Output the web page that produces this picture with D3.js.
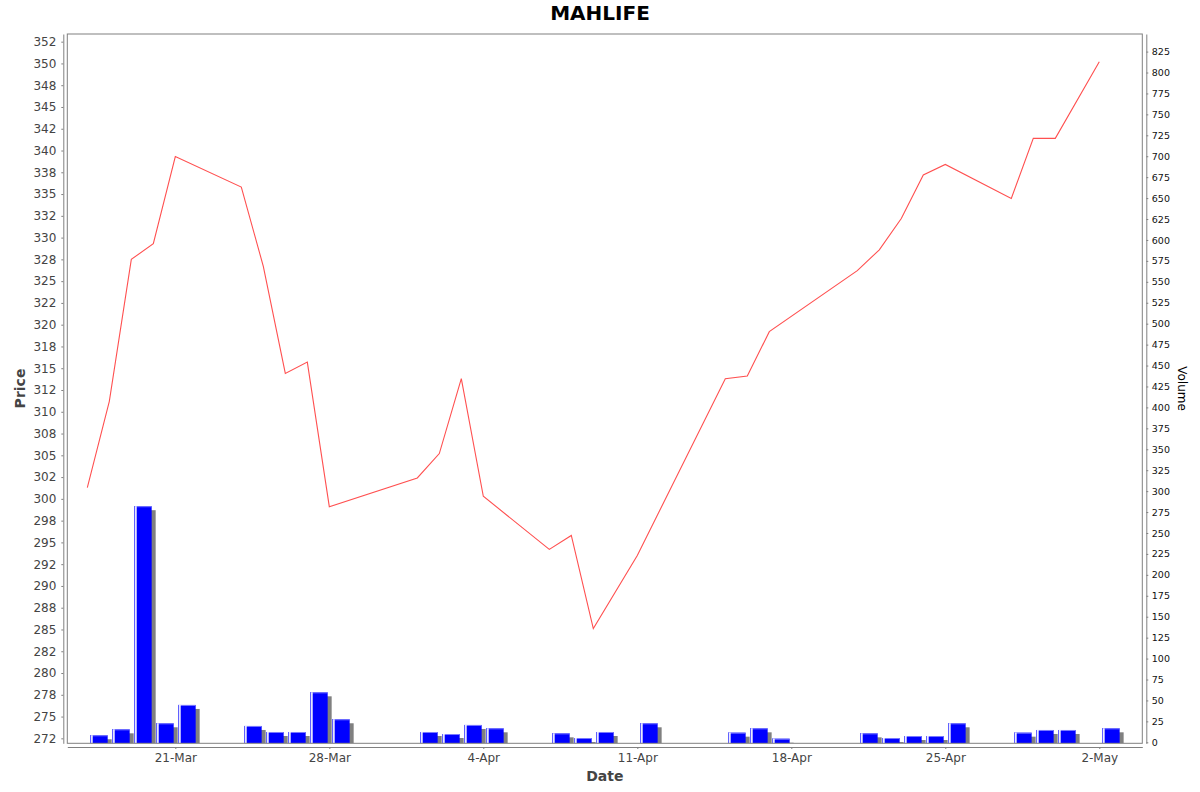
<!DOCTYPE html>
<html>
<head>
<meta charset="utf-8">
<script src="https://cdn.jsdelivr.net/npm/d3@7/dist/d3.min.js"></script>
<style>
  html, body { margin: 0; padding: 0; background: #ffffff; }
  svg { display: block; font-family: "DejaVu Sans", sans-serif; }
</style>
</head>
<body>
<svg id="chart" width="1200" height="792"></svg>
<script>
// ---- Data ----
const dates = ["2025-03-17","2025-03-18","2025-03-19","2025-03-20","2025-03-21",
  "2025-03-24","2025-03-25","2025-03-26","2025-03-27","2025-03-28",
  "2025-04-01","2025-04-02","2025-04-03","2025-04-04",
  "2025-04-07","2025-04-08","2025-04-09","2025-04-11",
  "2025-04-15","2025-04-16","2025-04-17",
  "2025-04-21","2025-04-22","2025-04-23","2025-04-24","2025-04-25",
  "2025-04-28","2025-04-29","2025-04-30","2025-05-02"];
const prices = [301.3, 311.2, 327.5, 329.3, 339.3,
  335.8, 326.7, 314.4, 315.7, 299.1,
  302.4, 305.2, 313.8, 300.3,
  294.2, 295.8, 285.1, 293.5,
  313.8, 314.1, 319.2,
  326.2, 328.6, 332.2, 337.2, 338.4,
  334.5, 341.4, 341.4, 350.2];
const volumes = [8.4, 15.5, 282, 22.7, 44.6,
  19.5, 12.3, 12.3, 59.7, 27.5,
  12.3, 9.9, 20.7, 16.7,
  10.7, 5.1, 12.3, 22.7,
  11.5, 16.7, 4.3,
  10.7, 5.1, 7.5, 7.5, 22.7,
  11.5, 14.7, 14.7, 16.7];
const priceTicks = [272.5, 275, 277.5, 280, 282.5, 285, 287.5, 290, 292.5, 295, 297.5, 300,
  302.5, 305, 307.5, 310, 312.5, 315, 317.5, 320, 322.5, 325, 327.5, 330, 332.5, 335,
  337.5, 340, 342.5, 345, 347.5, 350, 352.5];
const volumeTicks = [0, 25, 50, 75, 100, 125, 150, 175, 200, 225, 250, 275, 300, 325, 350,
  375, 400, 425, 450, 475, 500, 525, 550, 575, 600, 625, 650, 675, 700, 725, 750, 775, 800, 825];
const dateTicks = ["2025-03-21","2025-03-28","2025-04-04","2025-04-11","2025-04-18","2025-04-25","2025-05-02"];
const titleText = "MAHLIFE";

// ---- Layout ----
const DAY = 86400000;
const L = 67.3, R = 1142.3, T = 34, B = 743.3;
const parse = d3.utcParse("%Y-%m-%d");
const data = dates.map((d, i) => ({ date: parse(d), price: prices[i], volume: volumes[i] }));

const x = d3.scaleUtc()
  .domain([new Date(parse("2025-03-17").getTime() - 0.91 * DAY), new Date(parse("2025-05-03").getTime() + 0.955 * DAY)])
  .range([L, R]);
const yP = d3.scaleLinear().domain([271.93, 353.38]).range([B, T]);
const yV = d3.scaleLinear().domain([-1.2, 846]).range([B, T]);

const svg = d3.select("#chart");

// clip
svg.append("defs").append("clipPath").attr("id", "plotclip")
  .append("rect").attr("x", L).attr("y", T).attr("width", R - L).attr("height", B - T);

// title
svg.append("text").attr("x", 600).attr("y", 20).attr("text-anchor", "middle")
  .style("font-size", "20px").style("font-weight", "bold").attr("fill", "#000")
  .text(titleText);

const plot = svg.append("g").attr("clip-path", "url(#plotclip)");

// bars (volume) with shadows
const barG = plot.append("g");
const bx0 = d => x(new Date(d.date.getTime() + 0.125 * DAY));
const bx1 = d => x(new Date(d.date.getTime() + 0.925 * DAY));
const y0 = yV(0);
barG.selectAll("rect.shadow").data(data).join("rect").attr("class", "shadow")
  .attr("x", d => bx0(d) + 4).attr("y", d => yV(d.volume) + 4)
  .attr("width", d => bx1(d) - bx0(d)).attr("height", d => Math.max(0, B - yV(d.volume) - 4))
  .attr("fill", "#808080");
barG.selectAll("rect.bar").data(data).join("rect").attr("class", "bar")
  .attr("x", d => bx0(d)).attr("y", d => yV(d.volume))
  .attr("width", d => bx1(d) - bx0(d)).attr("height", d => B - yV(d.volume))
  .attr("fill", "#0000ff");
barG.selectAll("rect.top").data(data).join("rect").attr("class", "top")
  .attr("x", d => bx0(d)).attr("y", d => yV(d.volume))
  .attr("width", d => bx1(d) - bx0(d)).attr("height", 1)
  .attr("fill", "#7a7aff");
barG.selectAll("rect.hl").data(data).join("rect").attr("class", "hl")
  .attr("x", d => bx0(d) + 1).attr("y", d => yV(d.volume))
  .attr("width", 1.6).attr("height", d => B - yV(d.volume))
  .attr("fill", "#ffffff");
barG.selectAll("rect.edge").data(data).join("rect").attr("class", "edge")
  .attr("x", d => bx0(d)).attr("y", d => yV(d.volume))
  .attr("width", 1).attr("height", d => B - yV(d.volume))
  .attr("fill", "#6666ff");

// price line
const line = d3.line().x(d => x(d.date)).y(d => yP(d.price));
plot.append("path").datum(data).attr("d", line)
  .attr("fill", "none").attr("stroke", "#ff5050").attr("stroke-width", 1.1);

// plot outline
svg.append("rect").attr("x", L).attr("y", T).attr("width", R - L).attr("height", B - T)
  .attr("fill", "none").attr("stroke", "#808080").attr("stroke-width", 1);

// half-even integer formatting of price ticks
function halfEven(v) {
  const f = Math.floor(v);
  if (Math.abs(v - f - 0.5) < 1e-9) return (f % 2 === 0) ? f : f + 1;
  return Math.round(v);
}

function styleAxis(g, color, size) {
  g.select(".domain").attr("stroke", "#808080");
  g.selectAll(".tick line").attr("stroke", "#808080");
  g.selectAll(".tick text").attr("fill", color).style("font-size", size).style("font-family", "DejaVu Sans");
}

// left axis
const gl = svg.append("g").attr("transform", `translate(63.3,0)`)
  .call(d3.axisLeft(yP).tickValues(priceTicks).tickFormat(halfEven).tickSize(2).tickSizeOuter(0).tickPadding(5));
styleAxis(gl, "#444444", "12px");

// right axis
const gr = svg.append("g").attr("transform", `translate(1146.3,0)`)
  .call(d3.axisRight(yV).tickValues(volumeTicks).tickFormat(d3.format("d")).tickSize(2).tickSizeOuter(0).tickPadding(3.5));
styleAxis(gr, "#111111", "9.5px");

// bottom axis
const fmt = d3.utcFormat("%-d-%b");
const gb = svg.append("g").attr("transform", `translate(0,747)`)
  .call(d3.axisBottom(x).tickValues(dateTicks.map(parse)).tickFormat(fmt).tickSize(2).tickSizeOuter(0).tickPadding(4));
styleAxis(gb, "#444444", "12px");

// axis labels
svg.append("text").attr("transform", "translate(25,388.5) rotate(-90)").attr("text-anchor", "middle")
  .style("font-size", "14px").style("font-weight", "bold").attr("fill", "#444444").text("Price");
svg.append("text").attr("x", 604.8).attr("y", 781).attr("text-anchor", "middle")
  .style("font-size", "14px").style("font-weight", "bold").attr("fill", "#444444").text("Date");
svg.append("text").attr("transform", "translate(1177.5,388.5) rotate(90)").attr("text-anchor", "middle")
  .style("font-size", "12px").attr("fill", "#000").text("Volume");
</script>
</body>
</html>
